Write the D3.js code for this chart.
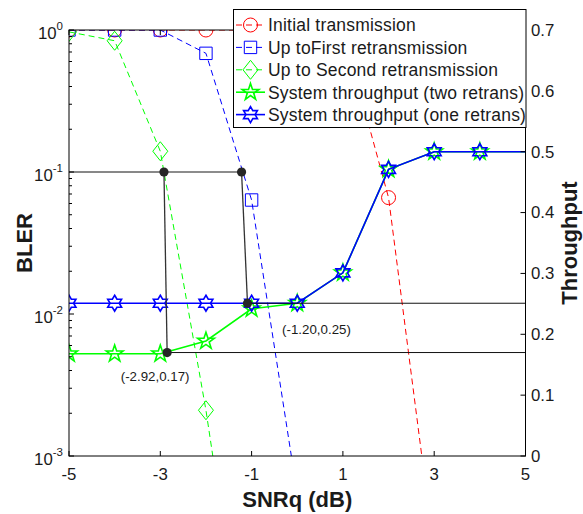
<!DOCTYPE html>
<html>
<head>
<meta charset="utf-8">
<script src="https://cdn.jsdelivr.net/npm/d3@7"></script>
<style>
  html, body { margin: 0; padding: 0; background: #fff; }
  svg { display: block; font-family: "Liberation Sans", Arial, Helvetica, sans-serif; }
</style>
</head>
<body>
<svg id="chart" width="583" height="514"></svg>
<script>
// ---------------- data ----------------
const snrInit   = [-5, -4, -3, -2, -1, 0, 1, 2, 3];
const blerInit  = [1, 1, 1, 1, 1, 1, 1, 0.066, 2.1e-4];

const snrFirst  = [-5, -4, -3, -2, -1, 0];
const blerFirst = [1, 1, 1, 0.685, 0.0635, 5.4e-4];

const snrSecond  = [-5, -4, -3, -2, -1];
const blerSecond = [0.97, 0.84, 0.14, 0.0021, 1.5e-5];

const snrThr = [-5, -4, -3, -2, -1, 0, 1, 2, 3, 4, 5];
const thrTwo = [0.168, 0.168, 0.168, 0.189, 0.242, 0.251, 0.301, 0.471, 0.5, 0.5, 0.5];
const thrOne = [0.251, 0.251, 0.251, 0.251, 0.251, 0.251, 0.301, 0.471, 0.5, 0.5, 0.5];
const thrMarkerCount = 10; // markers shown on the first 10 points only

const markBLER   = 0.1;
const markTopSNR = [-2.92, -1.22];
const markBotSNR = [-2.85, -1.09];
const markThr    = [0.17, 0.251];
const markLabels = ["(-2.92,0.17)", "(-1.20,0.25)"];

const xTicks      = [-5, -3, -1, 1, 3, 5];
const yLeftTicks  = [1, 0.1, 0.01, 0.001];
const yLeftExp    = ["0", "-1", "-2", "-3"];
const yRightTicks = [0, 0.1, 0.2, 0.3, 0.4, 0.5, 0.6, 0.7];

const legendLabels = [
  "Initial transmission",
  "Up toFirst retransmission",
  "Up to Second retransmission",
  "System throughput (two retrans)",
  "System throughput (one retrans)"
];

// ---------------- layout ----------------
const L = 69, R = 525.5, T = 30, B = 456;
const svg = d3.select("#chart");

const x = d3.scaleLinear().domain([-5, 5]).range([L, R]);
const yL = d3.scaleLog().domain([1e-3, 1]).range([B, T]);
const yR = d3.scaleLinear().domain([0, 0.7]).range([B, T]);

const RED = "#ff0000", BLUE = "#0000ff", GREEN = "#00ff00";

svg.append("defs").append("clipPath").attr("id", "plotclip")
  .append("rect").attr("x", L).attr("y", T).attr("width", R - L).attr("height", B - T);

function starPath(n, ro, ri, rot) {
  const pts = [];
  for (let i = 0; i < 2 * n; i++) {
    const r = i % 2 === 0 ? ro : ri;
    const a = rot + i * Math.PI / n;
    pts.push([r * Math.sin(a), -r * Math.cos(a)]);
  }
  return "M" + pts.map(p => p[0].toFixed(2) + "," + p[1].toFixed(2)).join("L") + "Z";
}
const markerPaths = {
  circle: d3.symbol().type(d3.symbolCircle).size(Math.PI * 49)(),
  square: "M-6.2,-6.2H6.2V6.2H-6.2Z",
  diamond: "M0,-9.5L7.5,0L0,9.5L-7.5,0Z",
  pentagram: starPath(5, 8.8, 3.4, 0),
  hexagram: starPath(6, 8, 4.6, 0)
};

function drawMarkers(g, xs, ys, yScale, shape, color, width) {
  g.selectAll(null).data(xs.map((v, i) => [v, ys[i]])).enter()
    .append("path")
    .attr("d", markerPaths[shape])
    .attr("transform", d => `translate(${x(d[0])},${yScale(d[1])})`)
    .attr("fill", "none")
    .attr("stroke", color)
    .attr("stroke-width", width);
}
function drawLine(g, xs, ys, yScale, color, width, dash) {
  const line = d3.line().x(d => x(d[0])).y(d => yScale(d[1]));
  g.append("path")
    .datum(xs.map((v, i) => [v, ys[i]]))
    .attr("d", line)
    .attr("fill", "none")
    .attr("stroke", color)
    .attr("stroke-width", width)
    .attr("stroke-dasharray", dash || null);
}

const plot = svg.append("g").attr("clip-path", "url(#plotclip)");

drawLine(plot, snrInit, blerInit, yL, RED, 1, "6,4");
drawMarkers(plot, snrInit, blerInit, yL, "circle", RED, 1);
drawLine(plot, snrFirst, blerFirst, yL, BLUE, 1, "6,4");
drawMarkers(plot, snrFirst, blerFirst, yL, "square", BLUE, 1);
drawLine(plot, snrSecond, blerSecond, yL, GREEN, 1, "6,4");
drawMarkers(plot, snrSecond, blerSecond, yL, "diamond", GREEN, 1);

drawLine(plot, snrThr, thrTwo, yR, GREEN, 1.6);
drawMarkers(plot, snrThr.slice(0, thrMarkerCount), thrTwo, yR, "pentagram", GREEN, 1.6);
drawLine(plot, snrThr, thrOne, yR, BLUE, 1.6);
drawMarkers(plot, snrThr.slice(0, thrMarkerCount), thrOne, yR, "hexagram", BLUE, 1.6);

// annotation lines & dots
const ann = svg.append("g").attr("clip-path", "url(#plotclip)");
ann.append("line").attr("x1", L).attr("x2", x(markTopSNR[0]))
  .attr("y1", yL(markBLER)).attr("y2", yL(markBLER)).attr("stroke", "#111").attr("stroke-width", 1);
ann.append("line").attr("x1", x(markTopSNR[0])).attr("x2", x(markTopSNR[1]))
  .attr("y1", yL(markBLER)).attr("y2", yL(markBLER)).attr("stroke", "#666").attr("stroke-width", 1.6);
markTopSNR.forEach((s, i) => {
  ann.append("line").attr("x1", x(s)).attr("y1", yL(markBLER))
    .attr("x2", x(markBotSNR[i])).attr("y2", yR(markThr[i]))
    .attr("stroke", "#333").attr("stroke-width", 1.3);
  ann.append("line").attr("x1", x(markBotSNR[i])).attr("x2", R)
    .attr("y1", yR(markThr[i])).attr("y2", yR(markThr[i]))
    .attr("stroke", "#111").attr("stroke-width", 1);
});
markTopSNR.forEach((s, i) => {
  ann.append("circle").attr("cx", x(s)).attr("cy", yL(markBLER)).attr("r", 4.6).attr("fill", "#262626");
  ann.append("circle").attr("cx", x(markBotSNR[i])).attr("cy", yR(markThr[i])).attr("r", 4.6).attr("fill", "#262626");
});
const labelOffsets = [[-12, 28], [69, 31]];
markLabels.forEach((t, i) => {
  svg.append("text")
    .attr("x", x(markBotSNR[i]) + labelOffsets[i][0])
    .attr("y", yR(markThr[i]) + labelOffsets[i][1])
    .attr("text-anchor", "middle")
    .attr("font-size", 13.3)
    .attr("fill", "#1a1a1a")
    .text(t);
});

// ---------------- axes ----------------
const ax = svg.append("g");
ax.append("rect").attr("x", L).attr("y", T).attr("width", R - L).attr("height", B - T)
  .attr("fill", "none").attr("stroke", "#000").attr("stroke-width", 1);

xTicks.forEach(v => {
  ax.append("line").attr("x1", x(v)).attr("x2", x(v)).attr("y1", B).attr("y2", B - 5).attr("stroke", "#000");
  ax.append("line").attr("x1", x(v)).attr("x2", x(v)).attr("y1", T).attr("y2", T + 5).attr("stroke", "#000");
  ax.append("text").attr("x", x(v)).attr("y", 480).attr("text-anchor", "middle")
    .attr("font-size", 16.8).attr("fill", "#1a1a1a").text(v);
});

for (let e = -3; e < 0; e++) {
  for (let m = 2; m <= 9; m++) {
    const v = m * Math.pow(10, e);
    ax.append("line").attr("x1", L).attr("x2", L + 3).attr("y1", yL(v)).attr("y2", yL(v)).attr("stroke", "#000");
  }
}
yLeftTicks.forEach((v, i) => {
  ax.append("line").attr("x1", L).attr("x2", L + 5).attr("y1", yL(v)).attr("y2", yL(v)).attr("stroke", "#000");
  const t = ax.append("text").attr("x", 63).attr("y", yL(v) + 9).attr("text-anchor", "end")
    .attr("font-size", 16.8).attr("fill", "#1a1a1a");
  t.append("tspan").text("10");
  t.append("tspan").attr("dy", -9).attr("font-size", 11.5).text(yLeftExp[i]);
});

yRightTicks.forEach(v => {
  ax.append("line").attr("x1", R).attr("x2", R - 5).attr("y1", yR(v)).attr("y2", yR(v)).attr("stroke", "#000");
  ax.append("text").attr("x", 531).attr("y", yR(v)).attr("dy", "0.35em")
    .attr("font-size", 16.8).attr("fill", "#1a1a1a").text(v);
});

svg.append("text").attr("transform", `translate(32,${(T + B) / 2}) rotate(-90)`)
  .attr("text-anchor", "middle").attr("font-size", 22).attr("font-weight", "bold").attr("fill", "#1a1a1a").text("BLER");
svg.append("text").attr("transform", `translate(577,${(T + B) / 2}) rotate(-90)`)
  .attr("text-anchor", "middle").attr("font-size", 22).attr("font-weight", "bold").attr("fill", "#1a1a1a").text("Throughput");
svg.append("text").attr("x", (L + R) / 2).attr("y", 507)
  .attr("text-anchor", "middle").attr("font-size", 22).attr("font-weight", "bold").attr("fill", "#1a1a1a").text("SNRq (dB)");

// ---------------- legend ----------------
const lg = svg.append("g");
lg.append("rect").attr("x", 233.5).attr("y", 9.5).attr("width", 292.5).attr("height", 118)
  .attr("fill", "#fff").attr("stroke", "#000").attr("stroke-width", 1);
const legStyles = [
  { c: RED, shape: "circle", w: 1, dash: "6,4" },
  { c: BLUE, shape: "square", w: 1, dash: "6,4" },
  { c: GREEN, shape: "diamond", w: 1, dash: "6,4" },
  { c: GREEN, shape: "pentagram", w: 1.6, dash: null },
  { c: BLUE, shape: "hexagram", w: 1.6, dash: null }
];
legendLabels.forEach((lab, i) => {
  const cy = 25 + i * 22.4;
  const s = legStyles[i];
  lg.append("line").attr("x1", 236).attr("x2", 265).attr("y1", cy).attr("y2", cy)
    .attr("stroke", s.c).attr("stroke-width", s.w).attr("stroke-dasharray", s.dash);
  lg.append("path").attr("d", markerPaths[s.shape]).attr("transform", `translate(250.5,${cy})`)
    .attr("fill", "none").attr("stroke", s.c).attr("stroke-width", s.w);
  lg.append("text").attr("x", 268).attr("y", cy).attr("dy", "0.36em")
    .attr("font-size", 17.5).attr("letter-spacing", 0.2).attr("fill", "#1a1a1a").text(lab);
});
</script>
</body>
</html>
